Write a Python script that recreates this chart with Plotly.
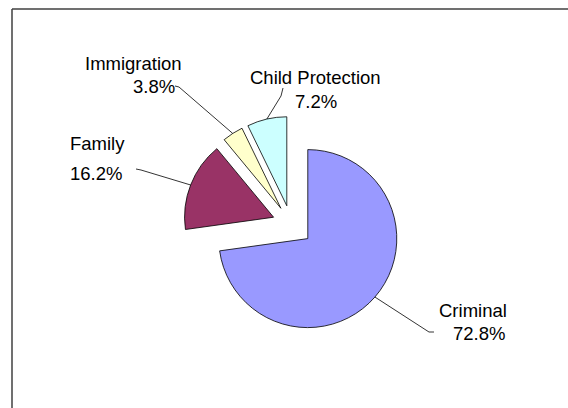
import math
import plotly.graph_objects as go

# ---- data ----
categories = ["Criminal", "Family", "Immigration", "Child Protection"]
shares = [72.8, 16.2, 3.8, 7.2]
colors = ["#9999FF", "#993366", "#FFFFCC", "#CCFFFF"]

# ---- layout constants (pixels) ----
W, H = 568, 408
CX, CY = 291, 224          # pie centre
R = 89                     # pie radius
pulls = [0.25, 0.21, 0.21, 0.21]
FONT = "Liberation Sans, Arial, sans-serif"
FS = 18.5

half = R * (1 + max(pulls))
dom_x = [(CX - half) / W, (CX + half) / W]
dom_y = [1 - (CY + half) / H, 1 - (CY - half) / H]


def px(x, y):
    return x / W, 1 - y / H


fig = go.Figure(go.Pie(
    labels=categories,
    values=shares,
    sort=False,
    direction="clockwise",
    rotation=0,
    pull=pulls,
    marker=dict(colors=colors, line=dict(color="#000000", width=0.8)),
    textinfo="none",
    hoverinfo="label+percent",
    showlegend=False,
    domain=dict(x=dom_x, y=dom_y),
))

# leader-line tip points computed from the slice geometry
total = sum(shares)
tips = []
cum = 0
for v, p in zip(shares, pulls):
    mid = (cum + v / 2) / total * 2 * math.pi
    cum += v
    rr = R * (1 + p)
    tips.append((CX + rr * math.sin(mid), CY - rr * math.cos(mid)))

# label layout: (name centre, percent centre, leader elbow points)
label_pos = {
    "Criminal": ((473, 310), (478.5, 333), [(429, 332), (434, 332)]),
    "Family": ((97, 143), (95.5, 173), [(141, 170), (136, 169)]),
    "Immigration": ((133.5, 63), (153.5, 86), [(179, 87), (175, 86)]),
    "Child Protection": ((315.5, 77), (316, 101), [(281, 96), (283, 88)]),
}

shapes = []
annotations = []
for name, v, tip in zip(categories, shares, tips):
    npos, ppos, elbows = label_pos[name]
    pts = [tip] + elbows
    path = "M " + " L ".join(
        f"{px(x, y)[0]:.5f},{px(x, y)[1]:.5f}" for x, y in pts)
    shapes.append(dict(type="path", xref="paper", yref="paper", path=path,
                       line=dict(color="#000000", width=0.8)))
    for txt, pos in ((name, npos), (f"{v:.1f}%", ppos)):
        x, y = px(*pos)
        annotations.append(dict(text=txt, x=x, y=y, xref="paper", yref="paper",
                                xanchor="center", yanchor="middle",
                                showarrow=False,
                                font=dict(family=FONT, size=FS, color="#000000")))

# chart frame: left and top edges (right/bottom edges fall off the canvas)
fx0, fy0 = px(12, 9)
shapes.append(dict(type="line", xref="paper", yref="paper",
                   x0=fx0, y0=0, x1=fx0, y1=fy0,
                   line=dict(color="#404040", width=1.5)))
shapes.append(dict(type="line", xref="paper", yref="paper",
                   x0=fx0, y0=fy0, x1=1, y1=fy0,
                   line=dict(color="#404040", width=1.5)))

fig.update_layout(
    width=W, height=H,
    margin=dict(l=0, r=0, t=0, b=0),
    paper_bgcolor="#FFFFFF",
    plot_bgcolor="#FFFFFF",
    shapes=shapes,
    annotations=annotations,
    font=dict(family=FONT),
)

fig.write_html("out.html", config={"displayModeBar": False})
